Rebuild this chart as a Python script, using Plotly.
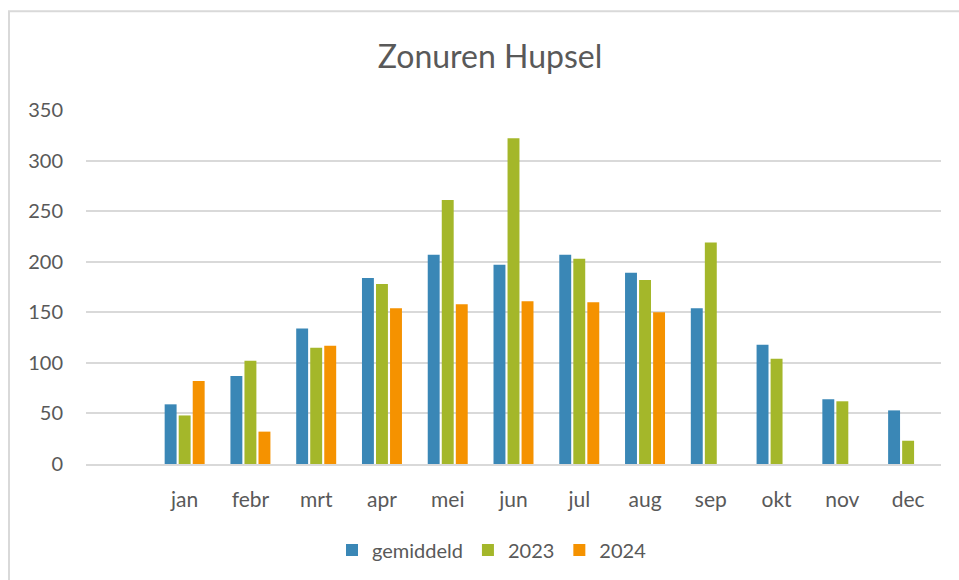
import plotly.graph_objects as go

months = ["jan", "febr", "mrt", "apr", "mei", "jun", "jul", "aug", "sep", "okt", "nov", "dec"]
gemiddeld = [59, 87, 134, 184, 207, 197, 207, 189, 154, 118, 64, 53]
y2023 = [48, 102, 115, 178, 261, 322, 203, 182, 219, 104, 62, 23]
y2024 = [82, 32, 117, 154, 158, 161, 160, 150, None, None, None, None]
y_ticks = [0, 50, 100, 150, 200, 250, 300, 350]

series = [
    ("gemiddeld", gemiddeld, "#3A87B6"),
    ("2023", y2023, "#A4B72A"),
    ("2024", y2024, "#F59200"),
]

fig = go.Figure()
for name, vals, col in series:
    fig.add_trace(go.Bar(x=months, y=vals, name=name, marker_color=col,
                         marker_line_width=0))

font_family = "Lato, 'Open Sans', sans-serif"
W, H = 959, 580
L, T = 86, 110
R = W - 941
B = H - 465
pw = W - L - R
ph = H - T - B

def px_x(p):
    return (p - L) / pw

def px_y(p):
    return (H - B - p) / ph

fig.update_layout(
    width=W, height=H,
    margin=dict(l=L, r=R, t=T, b=B),
    paper_bgcolor="white", plot_bgcolor="white",
    barmode="group", bargap=0.36, bargroupgap=0.15,
    title=dict(text="Zonuren Hupsel", x=490 / W, xref="container", xanchor="center",
               y=1 - 57 / H, yref="container", yanchor="middle",
               font=dict(family=font_family, size=32, color="#595959")),
    font=dict(family=font_family, color="#595959"),
    xaxis=dict(type="category", range=[-1.5, 11.5], showgrid=False,
               showline=True, linecolor="#D9D9D9", linewidth=2,
               ticks="", tickfont=dict(size=21, color="#595959"),
               ticklabelstandoff=16),
    yaxis=dict(range=[0, 350], tickvals=y_ticks, showgrid=True,
               gridcolor="#D9D9D9", gridwidth=2, zeroline=False,
               showline=False, ticks="",
               tickfont=dict(size=20, color="#595959"),
               ticklabelstandoff=22),
    legend=dict(orientation="h", x=px_x(492), xanchor="center",
                y=px_y(550), yanchor="middle",
                font=dict(size=20, color="#595959"),
                itemwidth=30, traceorder="normal"),
    showlegend=True,
)

fig.add_shape(type="rect", xref="paper", yref="paper",
              x0=px_x(9), x1=px_x(1010), y0=px_y(640), y1=px_y(11),
              line=dict(color="#D9D9D9", width=2), fillcolor="rgba(0,0,0,0)",
              layer="below")

fig.write_html(
    "out.html",
    config={"displayModeBar": False},
    post_script="document.documentElement.style.overflow='hidden';"
                "document.body.style.margin='0';document.body.style.overflow='hidden';",
)
